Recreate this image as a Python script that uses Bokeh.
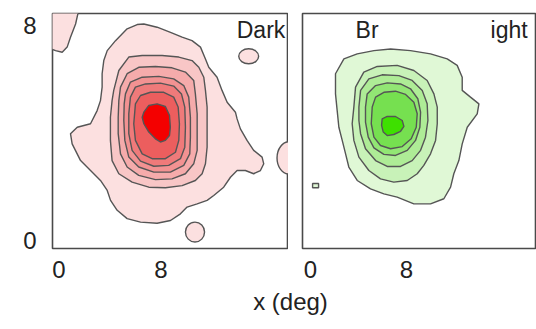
import math
from bokeh.plotting import figure
from bokeh.layouts import column, row
from bokeh.models import Label, FixedTicker
from bokeh.embed import file_html
from bokeh.resources import INLINE

# ---------------- data (deg) ----------------
tick_vals = [0, 8]
tick_text = {0: "0", 8: "8"}

# Dark (OFF) receptive field: contour polygons, outer -> inner
dark_x1 = [6.66, 7.70, 8.75, 9.66, 10.44, 11.10, 11.49, 11.75, 12.40, 12.79, 13.19, 13.84, 13.97, 14.23, 14.75, 15.27, 15.93, 16.06, 15.80, 15.27, 14.62, 13.97, 13.45, 12.92, 12.14, 11.62, 10.84, 10.05, 9.53, 8.75, 7.70, 6.40, 5.35, 4.57, 4.05, 3.79, 3.26, 2.48, 1.70, 1.04, 0.91, 1.44, 2.48, 3.00, 3.26, 3.39, 3.39, 3.52, 3.79, 4.44, 5.35, 6.14]
dark_y1 = [8.05, 7.93, 7.74, 7.56, 7.43, 7.19, 6.75, 6.44, 6.07, 5.58, 5.14, 4.77, 4.52, 4.15, 3.72, 3.35, 3.10, 2.85, 2.60, 2.48, 2.60, 2.60, 2.35, 1.98, 1.67, 1.49, 1.36, 1.24, 0.99, 0.74, 0.64, 0.68, 0.81, 1.12, 1.49, 1.86, 2.23, 2.60, 2.97, 3.59, 3.97, 4.21, 4.34, 4.83, 5.20, 5.70, 6.20, 6.69, 7.06, 7.43, 7.87, 8.03]
dark_x2 = [4.30, 4.70, 5.48, 6.53, 8.09, 9.40, 10.44, 10.97, 11.36, 11.49, 11.62, 11.62, 11.62, 11.49, 11.23, 10.70, 9.66, 8.35, 7.05, 5.74, 4.70, 4.17, 4.04, 4.04, 4.17]
dark_y2 = [5.58, 6.32, 6.82, 6.88, 6.88, 6.82, 6.69, 6.44, 6.07, 5.58, 4.96, 4.21, 3.47, 2.85, 2.48, 2.23, 2.04, 1.96, 1.98, 2.17, 2.48, 2.97, 3.72, 4.58, 5.20]
dark_x3 = [4.83, 5.35, 6.26, 7.57, 8.87, 9.92, 10.57, 10.70, 10.84, 10.84, 10.84, 10.57, 9.92, 8.87, 7.57, 6.26, 5.35, 4.83, 4.65, 4.65, 4.70]
dark_y3 = [5.70, 6.20, 6.44, 6.47, 6.42, 6.26, 5.95, 5.45, 4.71, 3.97, 3.35, 2.85, 2.48, 2.29, 2.26, 2.42, 2.73, 3.22, 3.97, 4.58, 5.20]
dark_x4 = [5.22, 5.61, 6.53, 7.83, 9.00, 9.79, 10.18, 10.31, 10.31, 10.26, 9.79, 8.74, 7.44, 6.26, 5.48, 5.17, 5.09, 5.12]
dark_y4 = [5.45, 5.89, 6.07, 6.10, 6.01, 5.76, 5.33, 4.58, 3.84, 3.22, 2.79, 2.54, 2.54, 2.73, 3.10, 3.72, 4.46, 5.08]
dark_x5 = [5.61, 6.00, 6.79, 7.96, 9.00, 9.61, 9.87, 9.92, 9.87, 9.53, 8.61, 7.44, 6.40, 5.74, 5.48, 5.48]
dark_y5 = [5.33, 5.70, 5.82, 5.85, 5.74, 5.45, 4.96, 4.21, 3.47, 3.04, 2.79, 2.76, 2.95, 3.35, 3.97, 4.71]
dark_x6 = [6.00, 6.40, 7.18, 8.22, 9.00, 9.35, 9.45, 9.40, 9.14, 8.35, 7.31, 6.53, 6.00, 5.87]
dark_y6 = [5.08, 5.39, 5.51, 5.51, 5.33, 4.96, 4.34, 3.72, 3.28, 3.04, 3.04, 3.22, 3.72, 4.34]
dark_x7 = [6.66, 7.05, 7.70, 8.35, 8.67, 8.74, 8.67, 8.35, 7.96, 7.57, 7.05, 6.66, 6.53]
dark_y7 = [4.77, 5.02, 5.08, 4.98, 4.65, 4.21, 3.90, 3.72, 3.66, 3.78, 4.03, 4.34, 4.58]
# corner patch (top-left) of the outer level
dark_corner_x = [-0.6, 1.57, 1.31, 0.91, 0.65, 0.26, -0.26, -0.6]
dark_corner_y = [8.6, 8.6, 8.05, 7.56, 7.19, 7.00, 7.06, 7.12]
# isolated small islands of the outer level: centre x, centre y, width, height
dark_spot_x = [14.88, 18.05, 10.67]
dark_spot_y = [6.85, 3.07, 0.31]
dark_spot_w = [1.56, 1.9, 1.5]
dark_spot_h = [0.56, 1.2, 0.74]

# Bright (ON) receptive field
bright_x1 = [2.08, 2.78, 3.89, 5.28, 6.67, 8.33, 10.00, 11.39, 12.22, 12.64, 12.64, 13.33, 14.03, 13.89, 13.06, 12.64, 12.36, 11.94, 11.67, 11.11, 10.00, 8.61, 7.22, 6.11, 5.00, 3.89, 3.19, 2.92, 2.64, 2.36, 2.22, 2.08]
bright_y1 = [6.20, 6.75, 6.94, 7.06, 7.12, 7.06, 6.94, 6.75, 6.51, 6.07, 5.58, 5.33, 5.08, 4.71, 4.21, 3.59, 2.97, 2.48, 1.98, 1.55, 1.36, 1.36, 1.61, 1.73, 1.92, 2.23, 2.73, 3.22, 3.72, 4.21, 4.83, 5.45]
bright_x2 = [3.47, 3.61, 3.75, 4.44, 5.56, 7.22, 8.61, 9.72, 10.28, 10.56, 10.56, 10.42, 10.00, 9.44, 8.89, 8.06, 6.94, 5.83, 4.86, 4.03, 3.61]
bright_y2 = [4.34, 4.96, 5.70, 6.26, 6.47, 6.51, 6.32, 5.95, 5.45, 4.96, 4.34, 3.72, 3.22, 2.79, 2.48, 2.23, 2.17, 2.29, 2.60, 3.10, 3.72]
bright_x3 = [4.03, 4.03, 4.17, 4.86, 5.97, 7.36, 8.47, 9.31, 9.72, 9.78, 9.58, 9.17, 8.47, 7.50, 6.39, 5.42, 4.58, 4.17]
bright_y3 = [4.46, 4.96, 5.58, 6.01, 6.16, 6.13, 5.95, 5.58, 5.08, 4.46, 3.84, 3.35, 2.97, 2.75, 2.75, 2.97, 3.41, 3.97]
bright_x4 = [4.58, 4.58, 4.72, 5.42, 6.39, 7.50, 8.33, 8.94, 9.17, 9.11, 8.75, 8.06, 7.08, 6.11, 5.28, 4.81]
bright_y4 = [4.40, 4.96, 5.45, 5.76, 5.86, 5.82, 5.64, 5.27, 4.77, 4.21, 3.72, 3.35, 3.16, 3.20, 3.44, 3.84]
bright_x5 = [5.06, 5.14, 5.42, 6.11, 7.08, 7.92, 8.61, 8.89, 8.81, 8.39, 7.64, 6.67, 5.83, 5.28]
bright_y5 = [4.34, 4.96, 5.33, 5.51, 5.55, 5.43, 5.14, 4.71, 4.21, 3.78, 3.49, 3.41, 3.53, 3.84]
bright_x6 = [5.97, 6.39, 7.08, 7.64, 7.78, 7.50, 6.94, 6.39, 6.06, 5.92]
bright_y6 = [4.52, 4.61, 4.61, 4.46, 4.24, 4.06, 3.94, 3.90, 4.03, 4.28]
bright_spot_x = [0.42]
bright_spot_y = [2.04]
bright_spot_w = [0.5]
bright_spot_h = [0.16]

dark_colors = ["#fce0e0", "#f8c6c6", "#f5abab", "#f29292", "#ef7a7a", "#ec5e5e", "#f40000"]
bright_colors = ["#e0f8d6", "#c8f2b8", "#aeec96", "#92e674", "#76e050", "#3ee000"]

LINE = "#555555"
LW = 1.4
FONT = "Liberation Sans"


def style(p):
    p.grid.visible = False
    p.outline_line_color = "#4a4a4a"
    p.outline_line_width = 1.6
    p.background_fill_color = "white"
    p.border_fill_color = "white"
    for ax in p.axis:
        ax.axis_line_color = None
        ax.major_tick_line_color = None
        ax.minor_tick_line_color = None
        ax.ticker = FixedTicker(ticks=tick_vals)
        ax.major_label_overrides = tick_text
        ax.major_label_text_font = FONT
        ax.major_label_text_font_size = "24px"
        ax.major_label_text_color = "#222222"


# ---------------- left panel ----------------
p1 = figure(width=288, height=282, x_range=(-0.5, 18.0), y_range=(-0.30, 8.44),
            output_backend="svg", toolbar_location=None,
            min_border_left=52, min_border_right=0, min_border_top=13, min_border_bottom=34)
style(p1)
p1.xaxis.major_label_standoff = 6
p1.yaxis.major_label_standoff = 10

p1.patch(dark_corner_x, dark_corner_y, fill_color=dark_colors[0], line_color=LINE, line_width=LW)
p1.ellipse(x=dark_spot_x, y=dark_spot_y, width=dark_spot_w, height=dark_spot_h,
           fill_color=dark_colors[0], line_color=LINE, line_width=LW)
dark_xs = [dark_x1, dark_x2, dark_x3, dark_x4, dark_x5, dark_x6, dark_x7]
dark_ys = [dark_y1, dark_y2, dark_y3, dark_y4, dark_y5, dark_y6, dark_y7]
p1.patches(dark_xs, dark_ys, fill_color=dark_colors, line_color=LINE, line_width=LW)

p1.add_layout(Label(x=17.75, y=8.32, text="Dark", text_align="right", text_baseline="top",
                    text_font=FONT, text_font_size="23px", text_color="#222222"))
p1.add_layout(Label(x=-2.75, y=4.15, text="y(deg)", angle=math.pi / 2, text_align="center",
                    text_baseline="middle", text_font=FONT, text_font_size="24px",
                    text_color="#222222"))

# ---------------- right panel ----------------
p2 = figure(width=248, height=282, x_range=(-0.67, 18.83), y_range=(-0.30, 8.44),
            output_backend="svg", toolbar_location=None, y_axis_location=None,
            min_border_left=14, min_border_right=0, min_border_top=13, min_border_bottom=34)
style(p2)
p2.xaxis.major_label_standoff = 6

p2.rect(x=bright_spot_x, y=bright_spot_y, width=bright_spot_w, height=bright_spot_h,
        fill_color=bright_colors[0], line_color=LINE, line_width=LW)
bright_xs = [bright_x1, bright_x2, bright_x3, bright_x4, bright_x5, bright_x6]
bright_ys = [bright_y1, bright_y2, bright_y3, bright_y4, bright_y5, bright_y6]
p2.patches(bright_xs, bright_ys, fill_color=bright_colors, line_color=LINE, line_width=LW)

p2.add_layout(Label(x=3.75, y=8.32, text="Br", text_align="left", text_baseline="top",
                    text_font=FONT, text_font_size="23px", text_color="#222222"))
p2.add_layout(Label(x=15.0, y=8.32, text="ight", text_align="left", text_baseline="top",
                    text_font=FONT, text_font_size="23px", text_color="#222222"))

# ---------------- shared x label ----------------
p3 = figure(width=536, height=47, x_range=(0, 536), y_range=(0, 47),
            output_backend="svg", toolbar_location=None,
            min_border=0, x_axis_location=None, y_axis_location=None)
p3.grid.visible = False
p3.outline_line_color = None
p3.add_layout(Label(x=290, y=28, text="x (deg)", text_align="center", text_baseline="middle",
                    text_font=FONT, text_font_size="24px", text_color="#222222"))

layout = column(row(p1, p2), p3)
open("out.html", "w").write(file_html(layout, INLINE))
